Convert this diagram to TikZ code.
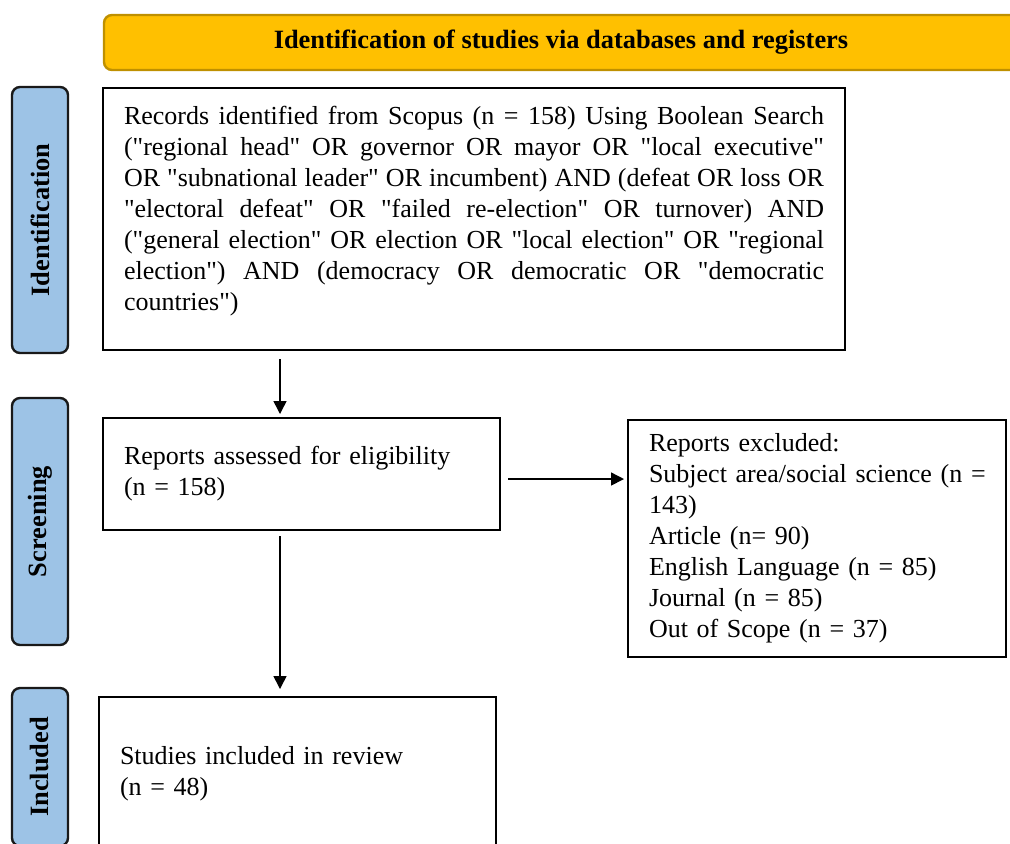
\documentclass[tikz,border=0pt]{standalone}
\usepackage{fontspec}
\setmainfont{Liberation Serif}[Ligatures=TeXOff]
\usetikzlibrary{positioning}
\usetikzlibrary{arrows.meta}
\definecolor{bannerfill}{HTML}{FFC000}
\definecolor{bannerdraw}{HTML}{BF9000}
\definecolor{phasefill}{HTML}{9DC3E6}
\tikzset{
	flowbox/.style={draw=black, line width=1pt, inner xsep=10.5pt, inner ysep=0pt, font=\fontsize{13}{15.5}\selectfont},
	phaselabel/.style={draw=black!90, fill=phasefill, line width=1.2pt, rounded corners=4pt, rotate=90, minimum height=28pt, inner sep=0pt, font=\fontsize{13.2}{15.5}\selectfont\bfseries},
	flowarrow/.style={-{Triangle[length=6.5pt,width=6.5pt]}, line width=0.75pt},
}

\begin{document}
\begin{tikzpicture}[x=0.5pt, y=-0.5pt]
	\useasboundingbox (0,0) rectangle (1010,843);
	\clip (0,0) rectangle (1010,843);
	
	\node[draw=bannerdraw, fill=bannerfill, line width=1.2pt, rounded corners=4pt, minimum width=457pt, minimum height=27.5pt, font=\fontsize{13.2}{15.5}\selectfont\bfseries] (banner) at (561,42.5) {Identification of studies via databases and registers};
	
	% phases
	\node[phaselabel, minimum width=133pt] (identlabel) at (40,220) {Identification};
	\node[phaselabel, minimum width=123.5pt] (screenlabel) at (40,521.5) {Screening};
	\node[phaselabel, minimum width=79pt] (inclabel) at (40,767) {Included};
	
	% boxes
	\node[flowbox, text width=350pt, align=justify, minimum height=131pt] (records) at (474,219) {Records identified from Scopus (n = 158) Using Boolean Search\linebreak
		("regional head" OR governor OR mayor OR "local executive"\linebreak
		OR "subnational leader" OR incumbent) AND (defeat OR loss OR\linebreak
		"electoral defeat" OR "failed re-election" OR turnover) AND\linebreak
		("general election" OR election OR "local election" OR "regional\linebreak
		election") AND (democracy OR democratic OR "democratic\linebreak
		countries")\par\vskip 8pt\hrule height 0pt width 0pt};
	\node[flowbox, text width=177.5pt, align=left, minimum height=56pt] (assessed) at (301.5,474) {Reports assessed for eligibility\\(n = 158)};
	\node[flowbox, text width=168pt, align=left, minimum height=118.5pt] (excluded) at (817,538.5) {Reports excluded:\\\mbox{Subject area/social science (n =}\\143)\\Article (n= 90)\\English Language (n = 85)\\Journal (n = 85)\\Out of Scope (n = 37)};
	\node[flowbox, text width=177.5pt, align=left, minimum height=77pt] (included) at (297.5,774) {Studies included in review\\(n = 48)};
	
	% arrows
	\coordinate (spine) at (280,0);
	\coordinate (exrow) at (0,479);
	\draw[flowarrow] ([yshift=-4pt]records.south -| spine) -- ([yshift=1.5pt]assessed.north -| spine);
	\draw[flowarrow] ([yshift=-2.5pt]assessed.south -| spine) -- ([yshift=3.5pt]included.north -| spine);
	\draw[flowarrow] ([xshift=3.5pt]assessed.east |- exrow) -- ([xshift=-1.5pt]excluded.west |- exrow);
\end{tikzpicture}
\end{document}
